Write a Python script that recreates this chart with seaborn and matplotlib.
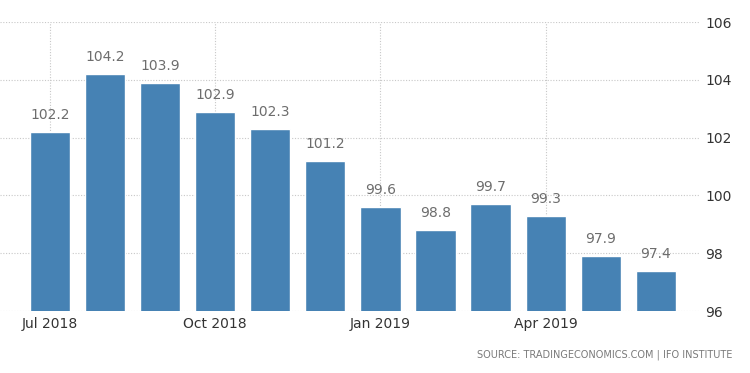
import matplotlib
matplotlib.use('Agg')
from matplotlib import pyplot as plt
import seaborn as sns
import pandas as pd

# dados do gráfico
meses = ['Jul 2018', 'Aug 2018', 'Sep 2018', 'Oct 2018', 'Nov 2018', 'Dec 2018',
         'Jan 2019', 'Feb 2019', 'Mar 2019', 'Apr 2019', 'May 2019', 'Jun 2019']
valores = [102.2, 104.2, 103.9, 102.9, 102.3, 101.2, 99.6, 98.8, 99.7, 99.3, 97.9, 97.4]
rotulos_x = ['Jul 2018', 'Oct 2018', 'Jan 2019', 'Apr 2019']
ticks_y = [96, 98, 100, 102, 104, 106]

df = pd.DataFrame({'mes': meses, 'valor': valores})

sns.set_style('white')
plt.rcParams['font.family'] = ['DejaVu Sans']

fig = plt.figure(figsize=(7.5, 3.73), dpi=100)
ax = fig.add_axes([0.0, 0.166, 0.933, 0.775])

sns.barplot(data=df, x='mes', y='valor', color='#4682b4', saturation=1,
            width=0.73, ax=ax, zorder=3)

ax.set_ylim(96, 106)
ax.set_xlim(-0.91, 11.8)

# rótulos dos dados
ax.bar_label(ax.containers[0], labels=[f'{v:.1f}' for v in valores],
             padding=7, color='#6d6d6d', fontsize=10)

# eixos
ax.yaxis.tick_right()
ax.set_yticks(ticks_y)
ax.set_yticklabels([str(t) for t in ticks_y], color='#333333', fontsize=10)
posicoes = [meses.index(r) for r in rotulos_x]
ax.set_xticks(posicoes)
ax.set_xticklabels(rotulos_x, color='#333333', fontsize=10)
ax.tick_params(axis='both', length=0, pad=4)
ax.set_xlabel('')
ax.set_ylabel('')

# grade pontilhada
ax.grid(True, axis='both', linestyle=(0, (1, 1.5)), color='#c8c8c8', linewidth=0.8, zorder=0)
ax.set_axisbelow(True)

for s in ax.spines.values():
    s.set_visible(False)

fig.text(0.977, 0.048, 'SOURCE: TRADINGECONOMICS.COM | IFO INSTITUTE',
         ha='right', va='center', fontsize=7, color='#7a7a7a')

fig.savefig('out.png', dpi=100)
